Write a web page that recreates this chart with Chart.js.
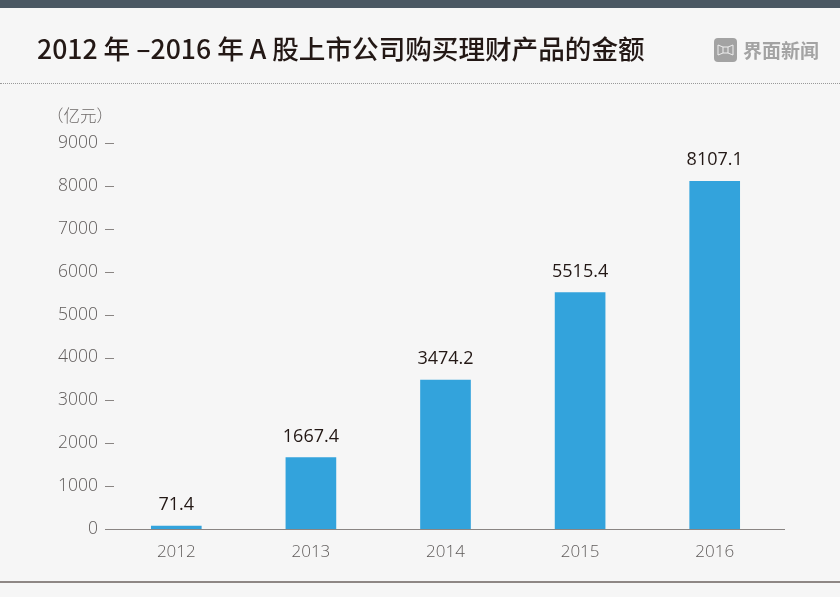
<!DOCTYPE html>
<html>
<head>
<meta charset="utf-8">
<script src="https://cdn.jsdelivr.net/npm/chart.js@4"></script>
<style>
  html, body { margin: 0; padding: 0; background: #f6f6f6; }
  #page { position: relative; width: 840px; height: 597px; overflow: hidden; font-family: "Noto Sans CJK SC", sans-serif; }
  #topbar { position: absolute; left: 0; top: 0; width: 840px; height: 8px; background: #4b5863; }
  #title { position: absolute; left: 37px; top: 28px; font-size: 26.6px; line-height: 40px; color: #231815; font-weight: 500; white-space: nowrap; }
  #dots { position: absolute; left: 0; top: 83px; width: 840px; border-top: 1px dotted #999; }
  #bottomline { position: absolute; left: 0; top: 581px; width: 840px; height: 2px; background: #8e8785; }
  #logoicon { position: absolute; left: 714px; top: 38px; width: 23px; height: 24px; border-radius: 4px; background: #a3a3a3; }
  #logoicon svg { position: absolute; left: 3px; top: 6px; }
  #logotext { position: absolute; left: 743px; top: 37px; font-size: 19px; line-height: 26px; font-weight: 700; color: #a3a3a3; white-space: nowrap; }
  #unit { position: absolute; left: 47px; top: 104px; font-size: 16.5px; line-height: 22px; font-weight: 300; color: #6f6b6a; white-space: nowrap; }
  #wrap { position: absolute; left: 0; top: 0; width: 840px; height: 597px; }
</style>
</head>
<body>
<div id="page">
  <div id="wrap"><canvas id="amountChart"></canvas></div>
  <div id="topbar"></div>
  <div id="title">2012 年 –2016 年 A 股上市公司购买理财产品的金额</div>
  <div id="dots"></div>
  <div id="logoicon"><svg width="17" height="12" fill="none" stroke="#eee" stroke-width="1"><path d="M1 1 L6 3 H11 L16 1 V11 L11 9 H6 L1 11 Z M6 3 V9 M11 3 V9"/></svg></div>
  <div id="logotext">界面新闻</div>
  <div id="unit">（亿元）</div>
  <div id="bottomline"></div>
</div>
<script>
const years = ['2012', '2013', '2014', '2015', '2016'];
const amounts = [71.4, 1667.4, 3474.2, 5515.4, 8107.1];
const yTicks = [0, 1000, 2000, 3000, 4000, 5000, 6000, 7000, 8000, 9000];

// tick dashes + baseline, they sit partly inside the plot so the grid can't do it
const axisMarks = {
    id: 'axisMarks',
    afterDatasetsDraw(chart) {
        const ctx = chart.ctx;
        const y = chart.scales.y;
        ctx.save();
        ctx.strokeStyle = '#8a8583';
        ctx.lineWidth = 1;
        yTicks.forEach(function (t) {
            const py = Math.round(y.getPixelForValue(t)) + 0.5;
            ctx.beginPath();
            ctx.moveTo(105, py);
            ctx.lineTo(t === 0 ? 785 : 114, py);
            ctx.stroke();
        });
        ctx.restore();
    }
};

// value labels above the bars
const barLabels = {
    id: 'barLabels',
    afterDatasetsDraw(chart) {
        const ctx = chart.ctx;
        ctx.save();
        ctx.font = '18px "Open Sans"';
        ctx.fillStyle = '#231815';
        ctx.textAlign = 'center';
        ctx.textBaseline = 'middle';
        chart.getDatasetMeta(0).data.forEach(function (bar, i) {
            ctx.fillText(String(amounts[i]), bar.x, bar.y - 21);
        });
        ctx.restore();
    }
};

new Chart(document.getElementById('amountChart'), {
    type: 'bar',
    data: {
        labels: years,
        datasets: [{
            data: amounts,
            backgroundColor: '#33a3dc',
            barThickness: 50
        }]
    },
    options: {
        responsive: true,
        maintainAspectRatio: false,
        animation: false,
        layout: { padding: { left: 0, right: 58, top: 143, bottom: 29.5 } },
        plugins: { legend: { display: false }, tooltip: { enabled: false } },
        scales: {
            x: {
                grid: { display: false },
                border: { display: false },
                ticks: { color: '#5f5b5a', font: { family: 'Open Sans', size: 17, weight: 300 }, padding: 5 }
            },
            y: {
                min: 0,
                max: 9000,
                afterFit: function (scale) { scale.width = 109; },
                afterBuildTicks: function (scale) { scale.ticks = yTicks.map(v => ({ value: v })); },
                grid: { display: false },
                border: { display: false },
                ticks: {
                    color: '#5f5b5a',
                    font: { family: 'Open Sans', size: 17.5, weight: 300 },
                    padding: 3,
                    callback: function (value) { return String(value); }
                }
            }
        }
    },
    plugins: [axisMarks, barLabels]
});
</script>
</body>
</html>
